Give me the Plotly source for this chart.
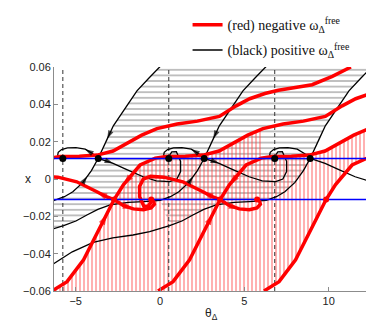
import numpy as np
import plotly.graph_objects as go

P = 2 * np.pi

# black curves: positive free frequency (the pattern repeats every 2*pi)
bk_saddle = [-3.66, 2.62, 8.90]
bk_node = [-5.76, 0.52, 6.80]
# stable manifold of the saddle at 8.90, from the lower-left end to the top
bk_ws_t = [-6.4, -5.2, -3.96, -2.8, -1.6, -0.61, 0.57, 1.3, 1.95, 2.6, 3.33, 4.4, 5.3,
           6.3, 6.9, 7.4, 8.0, 8.25, 8.5, 8.9, 9.2, 9.44, 9.8, 10.22, 10.7, 11.2, 11.9, 12.6]
bk_ws_x = [-0.046, -0.039, -0.034, -0.0315, -0.030, -0.0282, -0.025, -0.0225, -0.0193,
           -0.0163, -0.0139, -0.0125, -0.0121, -0.0115, -0.0095, -0.0068, -0.0018, 0.0015,
           0.0045, 0.011, 0.0165, 0.0215, 0.0285, 0.0342, 0.041, 0.0472, 0.054, 0.0605]
# unstable branch, saddle 2.62 -> node 0.52 (loops over the top)
bk_ul_t = [2.62, 2.3, 1.85, 1.3, 0.8, 0.45, 0.25, 0.22, 0.3, 0.42, 0.52]
bk_ul_x = [0.011, 0.0135, 0.016, 0.0168, 0.0167, 0.0158, 0.0143, 0.0128, 0.0117, 0.0111, 0.011]
# unstable branch, saddle -3.66 -> node 0.52 (dips, then spirals in)
bk_ur_t = [-3.66, -3.2, -2.78, -2.0, -1.0, -0.22, 0.57, 1.0, 1.22, 1.22, 0.97, 0.7, 0.55, 0.52]
bk_ur_x = [0.011, 0.0098, 0.0084, 0.0052, 0.0012, -0.001, -0.0014, 0.0, 0.004, 0.0095,
           0.0146, 0.0145, 0.0125, 0.011]

# red curves: negative free frequency
rd_saddle = [-2.72, 3.56, 9.85]
rd_node = [-0.52, 5.76]
# stable manifold of the saddle at -2.72, from the bottom to the upper right
rd_ws_t = [-6.4, -5.51, -4.53, -3.74, -3.15, -2.72, -2.16, -1.18, -0.28, 0.37, 1.5, 2.56,
           3.5, 4.32, 5.2, 6.1, 7.3, 8.5, 9.8, 10.8, 11.6, 12.5, 13.3, 14.3, 15.3, 16.5, 17.6]
rd_ws_x = [-0.06, -0.055, -0.0433, -0.029, -0.019, -0.011, -0.003, 0.0075, 0.0112, 0.012,
           0.0122, 0.0128, 0.015, 0.019, 0.0235, 0.027, 0.0295, 0.031, 0.0335, 0.0392,
           0.043, 0.0458, 0.0475, 0.049, 0.0505, 0.055, 0.06]
# unstable branch, saddle 3.56 -> node -0.52
rd_ul_t = [3.56, 3.1, 2.54, 1.35, 0.23, -0.56, -0.99, -1.21, -1.21, -0.96, -0.69, -0.54, -0.52]
rd_ul_x = [-0.011, -0.0095, -0.0068, -0.0015, 0.001, 0.0014, 0.0, -0.004, -0.0095, -0.0146,
           -0.0145, -0.0125, -0.011]
# unstable branch, saddle 3.56 -> node 5.76
rd_ur_t = [3.56, 3.85, 4.12, 4.7, 5.3, 5.75, 5.95, 5.9, 5.76]
rd_ur_x = [-0.011, -0.013, -0.0143, -0.016, -0.0165, -0.0155, -0.0135, -0.0118, -0.011]

sep_levels = [0.011, -0.011]

BLACK = "black"
RED = "rgb(255,0,0)"

fig = go.Figure()


def sh(t, k):
    return np.asarray(t) + k * P


# --- hatched basins -------------------------------------------------------
ws_t = np.asarray(bk_ws_t)
ws_x = np.asarray(bk_ws_x)
cut = 0.2
s3 = ws_t >= cut
s2 = sh(ws_t, -1) < cut
poly_t = list(sh(ws_t, -2)) + list(ws_t[s3][::-1]) + list(sh(ws_t, -1)[s2][::-1])
poly_x = list(ws_x) + list(ws_x[s3][::-1]) + list(ws_x[s2][::-1])
fig.add_trace(go.Scatter(x=poly_t, y=poly_x, mode="none", fill="toself",
                         fillcolor="rgba(0,0,0,0)", showlegend=False, hoverinfo="skip",
                         fillpattern=dict(shape="-", fgcolor="rgb(55,55,55)",
                                          bgcolor="rgba(0,0,0,0)", size=5.6, solidity=0.22)))

rt = np.asarray(rd_ws_t)
rx = np.asarray(rd_ws_x)
a = rt <= 6.1
b = sh(rt, 1) >= 5.95
poly_t = list(rt[a]) + list(sh(rt, 1)[b]) + list(sh(rt, 2)[::-1])
poly_x = list(rx[a]) + list(rx[b]) + list(rx[::-1])
fig.add_trace(go.Scatter(x=poly_t, y=poly_x, mode="none", fill="toself",
                         fillcolor="rgba(0,0,0,0)", showlegend=False, hoverinfo="skip",
                         fillpattern=dict(shape="|", fgcolor="rgb(255,60,60)", fgopacity=0.8,
                                          bgcolor="rgba(0,0,0,0)", size=4, solidity=0.25)))

# --- dashed lines through the black nodes ---------------------------------
for n in bk_node:
    fig.add_trace(go.Scatter(x=[n, n], y=[-0.06, 0.06], mode="lines", showlegend=False,
                             line=dict(color="#333333", width=1, dash="4px,3px"),
                             hoverinfo="skip"))

# --- black trajectories ---------------------------------------------------
black_name = "(black) positive ω<sub>Δ</sub><sup>free</sup>"
first = True
for t, x, ks in [(bk_ws_t, bk_ws_x, [-2, -1, 0]),
                 (bk_ul_t, bk_ul_x, [-1, 0, 1]),
                 (bk_ur_t, bk_ur_x, [0, 1, 2])]:
    for k in ks:
        fig.add_trace(go.Scatter(x=sh(t, k), y=x, mode="lines", name=black_name,
                                 line=dict(color=BLACK, width=1.3), legendrank=2,
                                 showlegend=first, legendgroup="black"))
        first = False

# --- red trajectories -----------------------------------------------------
red_name = "(red) negative ω<sub>Δ</sub><sup>free</sup>"
first = True
for t, x, ks in [(rd_ws_t, rd_ws_x, [-1, 0, 1, 2]),
                 (rd_ul_t, rd_ul_x, [-1, 0]),
                 (rd_ur_t, rd_ur_x, [-1, 0])]:
    for k in ks:
        fig.add_trace(go.Scatter(x=sh(t, k), y=x, mode="lines", name=red_name,
                                 line=dict(color=RED, width=3.5), legendrank=1,
                                 showlegend=first, legendgroup="red"))
        first = False

# --- the two blue levels --------------------------------------------------
for lv in sep_levels:
    fig.add_trace(go.Scatter(x=[-P, 2 * P], y=[lv, lv], mode="lines", showlegend=False,
                             line=dict(color="rgb(0,0,255)", width=1.5), hoverinfo="skip"))


# --- arrow heads (head = curve point i, tail = neighbour in flow direction) --
def arrow(t, x, k, i, back, color, size):
    j = i + back
    fig.add_trace(go.Scatter(x=[t[j] + k * P, t[i] + k * P], y=[x[j], x[i]], mode="markers",
                             showlegend=False, hoverinfo="skip",
                             marker=dict(symbol="arrow", angleref="previous",
                                         size=[0, size], color=color, line=dict(width=0))))


for k in [-2, -1]:
    arrow(bk_ws_t, bk_ws_x, k, bk_ws_t.index(9.44), 1, BLACK, 9)
    arrow(bk_ws_t, bk_ws_x, k, bk_ws_t.index(8.25), -1, BLACK, 9)
for k in [-1, 0]:
    arrow(bk_ul_t, bk_ul_x, k, 2, -1, BLACK, 9)
for k in [0, 1]:
    arrow(bk_ur_t, bk_ur_x, k, 2, -1, BLACK, 9)
for k in [0, 1]:
    arrow(rd_ws_t, rd_ws_x, k, 4, -1, RED, 11)
    arrow(rd_ws_t, rd_ws_x, k, 6, 1, RED, 11)
for k in [-1, 0]:
    arrow(rd_ul_t, rd_ul_x, k, 2, -1, RED, 11)
    arrow(rd_ur_t, rd_ur_x, k, 3, -1, RED, 11)

# --- fixed points ---------------------------------------------------------
fig.add_trace(go.Scatter(x=bk_node + bk_saddle, y=[sep_levels[0]] * 6, mode="markers",
                         showlegend=False, marker=dict(color=BLACK, size=7)))
fig.add_trace(go.Scatter(x=rd_node + rd_saddle, y=[sep_levels[1]] * 5, mode="markers",
                         showlegend=False, marker=dict(color=RED, size=6)))

axis_font = dict(family="Liberation Sans, Arial, sans-serif", size=11, color="#222222")
fig.update_xaxes(range=[-P, 2 * P], tickvals=[-5, 0, 5, 10], ticks="inside", ticklen=4,
                 tickcolor="#8c8c8c", showline=True, linecolor="#8c8c8c", showgrid=False,
                 zeroline=False, tickfont=axis_font)
fig.update_yaxes(range=[-0.06, 0.06], tickvals=[-0.06, -0.04, -0.02, 0, 0.02, 0.04, 0.06],
                 ticks="inside", ticklen=4, tickcolor="#8c8c8c", showline=True,
                 linecolor="#8c8c8c", showgrid=False, zeroline=False, tickfont=axis_font)

fig.add_annotation(text="x", xref="paper", yref="paper", x=-0.098, y=0.5, showarrow=False,
                   font=dict(family="Liberation Sans, Arial, sans-serif", size=12, color="#222"))
fig.add_annotation(text="θ<sub>Δ</sub>", xref="paper", yref="paper", x=0.495, y=-0.06,
                   yanchor="top", showarrow=False,
                   font=dict(family="Liberation Sans, Arial, sans-serif", size=12, color="#222"))

# the page body adds an 8px offset, so the figure is sized to end at the window edge
fig.update_layout(
    width=366, height=323,
    margin=dict(l=46, r=2, t=59, b=40, autoexpand=False),
    plot_bgcolor="white", paper_bgcolor="white",
    legend=dict(x=0.42, y=1.258, xanchor="left", yanchor="top", bgcolor="rgba(0,0,0,0)",
                font=dict(family="Liberation Serif, Times New Roman, serif", size=14,
                          color="#111"),
                tracegroupgap=4),
)

fig.write_html("out.html")
